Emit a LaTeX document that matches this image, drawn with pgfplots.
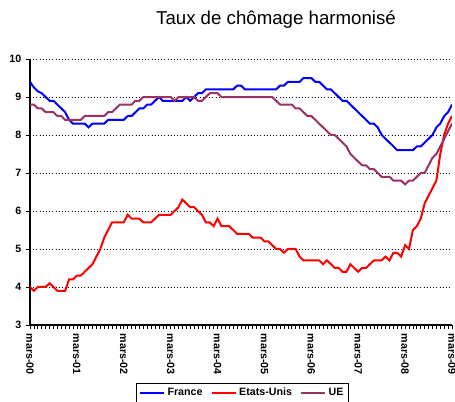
\documentclass[border=0pt]{standalone}
\usepackage{fontspec}
\setmainfont{Liberation Sans}
\usepackage{pgfplots}
\usepackage{pgfplotstable}
\pgfplotsset{compat=1.18}
\definecolor{frblue}{RGB}{0,0,255}
\definecolor{usred}{RGB}{255,0,0}
\definecolor{ueplum}{RGB}{153,51,102}

\pgfplotstableread{
m fr us ue
0 9.4 4.0 8.8
1 9.25 3.9 8.8
2 9.15 4.0 8.7
3 9.1 4.0 8.7
4 9.0 4.0 8.6
5 8.9 4.1 8.6
6 8.9 4.0 8.6
7 8.8 3.9 8.5
8 8.7 3.9 8.5
9 8.6 3.9 8.4
10 8.4 4.2 8.4
11 8.3 4.2 8.4
12 8.3 4.3 8.4
13 8.3 4.3 8.4
14 8.3 4.4 8.5
15 8.2 4.5 8.5
16 8.3 4.6 8.5
17 8.3 4.8 8.5
18 8.3 5.0 8.5
19 8.3 5.3 8.5
20 8.4 5.5 8.6
21 8.4 5.7 8.6
22 8.4 5.7 8.7
23 8.4 5.7 8.8
24 8.4 5.7 8.8
25 8.5 5.9 8.8
26 8.5 5.8 8.8
27 8.6 5.8 8.9
28 8.7 5.8 8.9
29 8.7 5.7 9.0
30 8.8 5.7 9.0
31 8.8 5.7 9.0
32 8.9 5.8 9.0
33 9.0 5.9 9.0
34 8.9 5.9 9.0
35 8.9 5.9 9.0
36 8.9 5.9 9.0
37 8.9 6.0 8.9
38 8.9 6.1 9.0
39 8.9 6.3 9.0
40 9.0 6.2 9.0
41 8.9 6.1 9.0
42 9.0 6.1 9.0
43 9.1 6.0 8.9
44 9.1 5.9 8.9
45 9.2 5.7 9.0
46 9.2 5.7 9.1
47 9.2 5.6 9.1
48 9.2 5.8 9.1
49 9.2 5.6 9.0
50 9.2 5.6 9.0
51 9.2 5.6 9.0
52 9.2 5.5 9.0
53 9.3 5.4 9.0
54 9.3 5.4 9.0
55 9.2 5.4 9.0
56 9.2 5.4 9.0
57 9.2 5.3 9.0
58 9.2 5.3 9.0
59 9.2 5.3 9.0
60 9.2 5.2 9.0
61 9.2 5.2 9.0
62 9.2 5.1 9.0
63 9.2 5.0 8.9
64 9.3 5.0 8.8
65 9.3 4.9 8.8
66 9.4 5.0 8.8
67 9.4 5.0 8.8
68 9.4 5.0 8.7
69 9.4 4.8 8.7
70 9.5 4.7 8.6
71 9.5 4.7 8.5
72 9.5 4.7 8.5
73 9.4 4.7 8.4
74 9.4 4.7 8.3
75 9.3 4.6 8.2
76 9.2 4.7 8.1
77 9.2 4.6 8.0
78 9.1 4.5 8.0
79 9.0 4.5 7.9
80 8.9 4.4 7.8
81 8.9 4.4 7.7
82 8.8 4.6 7.5
83 8.7 4.5 7.4
84 8.6 4.4 7.3
85 8.5 4.5 7.2
86 8.4 4.5 7.2
87 8.3 4.6 7.1
88 8.3 4.7 7.1
89 8.2 4.7 7.0
90 8.0 4.7 6.9
91 7.9 4.8 6.9
92 7.8 4.7 6.9
93 7.7 4.9 6.8
94 7.6 4.9 6.8
95 7.6 4.8 6.8
96 7.6 5.1 6.7
97 7.6 5.0 6.8
98 7.6 5.5 6.8
99 7.7 5.6 6.9
100 7.7 5.8 7.0
101 7.8 6.2 7.0
102 7.9 6.4 7.2
103 8.0 6.6 7.4
104 8.2 6.8 7.5
105 8.3 7.5 7.7
106 8.5 8.0 7.9
107 8.6 8.3 8.1
108 8.8 8.5 8.3
}\data

\begin{document}
\begin{tikzpicture}
\path[use as bounding box] (-22.5pt,-57.75pt) rectangle (318.75pt,243.75pt);
\begin{axis}[
  at={(0,0)}, anchor=south west, scale only axis,
  width=316.5pt, height=199.5pt,
  xmin=0, xmax=108, ymin=3, ymax=10,
  axis x line=bottom, axis y line=left,
  axis line style={-, black, line width=0.8pt},
  xtick={0,12,...,108},
  xticklabels={mars-00,mars-01,mars-02,mars-03,mars-04,mars-05,mars-06,mars-07,mars-08,mars-09},
  minor x tick num=11,
  ytick={3,...,10},
  ymajorgrids, grid style={black, dotted, line width=0.6pt},
  tick align=outside, tick style={black, line width=0.5pt},
  major tick length=3pt, minor tick length=3pt,
  x tick label style={rotate=-90, anchor=west, font=\bfseries\fontsize{8}{9}\selectfont},
  y tick label style={font=\bfseries\fontsize{8}{9}\selectfont},
  /pgf/number format/assume math mode=true,
  legend columns=3,
  legend style={at={(axis description cs:0.5036,-0.218)}, anchor=north,
    draw=black, line width=0.5pt, font=\bfseries\fontsize{8}{9}\selectfont,
    inner xsep=2pt, inner ysep=1.5pt,
    /tikz/every even column/.append style={column sep=4pt}},
  legend image code/.code={\draw[#1] (0pt,0pt) -- (18pt,0pt);},
]
\addplot[frblue, line width=1.5pt] table[x=m, y=fr] {\data};
\addlegendentry{France}
\addplot[usred, line width=1.5pt] table[x=m, y=us] {\data};
\addlegendentry{Etats-Unis}
\addplot[ueplum, line width=1.5pt] table[x=m, y=ue] {\data};
\addlegendentry{UE}
\end{axis}
\node[font=\fontsize{14}{16}\selectfont] at (184.5pt,228.75pt) {Taux de chômage harmonisé};
\end{tikzpicture}
\end{document}
